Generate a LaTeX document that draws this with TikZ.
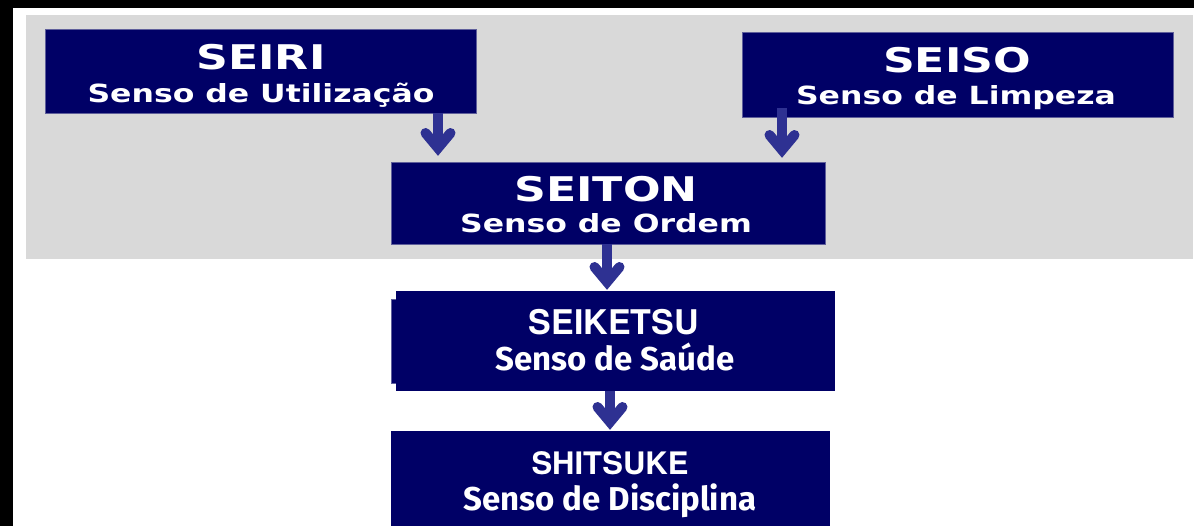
\documentclass[tikz,border=0pt]{standalone}
\usepackage{fontspec}
\usetikzlibrary{calc}
\newfontfamily\vtitle[FakeStretch=1.3]{DejaVu Sans Bold}
\newfontfamily\vsub[FakeStretch=1.26]{DejaVu Sans Bold}
\newfontfamily\atitle{texgyreheros-bold.otf}
\newfontfamily\hsub{Fira Sans}
\definecolor{navy}{RGB}{0,0,102}
\definecolor{arrowblue}{RGB}{46,49,146}
\definecolor{panel}{RGB}{217,217,217}
\definecolor{edgeline}{RGB}{95,95,155}
\tikzset{
  box/.style={rectangle, fill=navy, inner sep=0pt, outer sep=0pt},
  topbox/.style={box, draw=edgeline, line width=0.8pt},
  ttl/.style={anchor=base, text=white, inner sep=0pt, font=\vtitle\fontsize{34}{40}\selectfont},
  sub/.style={anchor=base, text=white, inner sep=0pt, font=\vsub\fontsize{25}{30}\selectfont},
  ttlb/.style={anchor=base, text=white, inner sep=0pt, font=\atitle\fontsize{32}{38}\selectfont},
  subb/.style={anchor=base, text=white, inner sep=0pt, font=\hsub\bfseries\fontsize{33}{40}\selectfont},
  shaft/.style={draw=arrowblue, line width=10pt, line cap=butt},
  chev/.style={draw=arrowblue, line width=10pt, line cap=round, line join=miter}
}
\begin{document}
\begin{tikzpicture}[x=1pt,y=-1pt]
\useasboundingbox (0,0) rectangle (1194,526);
\fill[black] (0,0) rectangle (1194,526);
\fill[white] (13,8) rectangle (1194,526);
\fill[panel] (26,15) rectangle (1193,259);

% boxes
\node[topbox, minimum width=431, minimum height=84] (seiri) at (260.5,71) {};
\node[topbox, minimum width=431, minimum height=85] (seiso) at (957.5,74.5) {};
\node[topbox, minimum width=434, minimum height=82] (seiton) at (608,203) {};
\node[box, draw=edgeline, line width=0.8pt, minimum width=5, minimum height=84] (seiketsuedge) at (393.5,341) {};
\node[box, minimum width=439, minimum height=100] (seiketsu) at (615.5,341) {};
\node[box, minimum width=439, minimum height=95] (shitsuke) at (610.5,478.5) {};

% texts
\node[ttl] (seiri-t) at (261,70) {SEIRI};
\node[sub] (seiri-s) at (261,103) {Senso de Utilização};
\node[ttl] (seiso-t) at (957,73) {SEISO};
\node[sub] (seiso-s) at (956,105) {Senso de Limpeza};
\node[ttl] (seiton-t) at (606,202) {SEITON};
\node[sub] (seiton-s) at (606,233) {Senso de Ordem};
\node[ttlb, font=\atitle\fontsize{34}{40}\selectfont] (seiketsu-t) at (614,335) {SEIKETSU};
\node[subb] (seiketsu-s) at (615,371) {Senso de Saúde};
\node[ttlb, font=\atitle\fontsize{31}{37}\selectfont] (shitsuke-t) at (610,474) {SHITSUKE};
\node[subb] (shitsuke-s) at (610,510) {Senso de Disciplina};

% arrows
\coordinate (a1) at (438,0);
\coordinate (a2) at (782,0);
\coordinate (a3) at (607,0);
\coordinate (a4) at (610,0);
\coordinate (v1) at ($(seiton.north -| a1)+(0,-14)$);
\coordinate (v2) at ($(seiton.north -| a2)+(0,-12)$);
\coordinate (v3) at ($(seiketsu.north -| a3)+(0,-9)$);
\coordinate (v4) at ($(shitsuke.north -| a4)+(0,-9)$);

\draw[shaft] (seiri.south -| a1) -- (v1);
\draw[chev] ($(v1)+(-12.5,-15)$) -- (v1) -- ($(v1)+(12.5,-15)$);
\draw[shaft] ($(seiso.south -| a2)+(0,-9)$) -- (v2);
\draw[chev] ($(v2)+(-12.5,-15)$) -- (v2) -- ($(v2)+(12.5,-15)$);
\draw[shaft] (seiton.south -| a3) -- (v3);
\draw[chev] ($(v3)+(-12.5,-15)$) -- (v3) -- ($(v3)+(12.5,-15)$);
\draw[shaft] (seiketsu.south -| a4) -- (v4);
\draw[chev] ($(v4)+(-12.5,-15)$) -- (v4) -- ($(v4)+(12.5,-15)$);
\end{tikzpicture}
\end{document}
